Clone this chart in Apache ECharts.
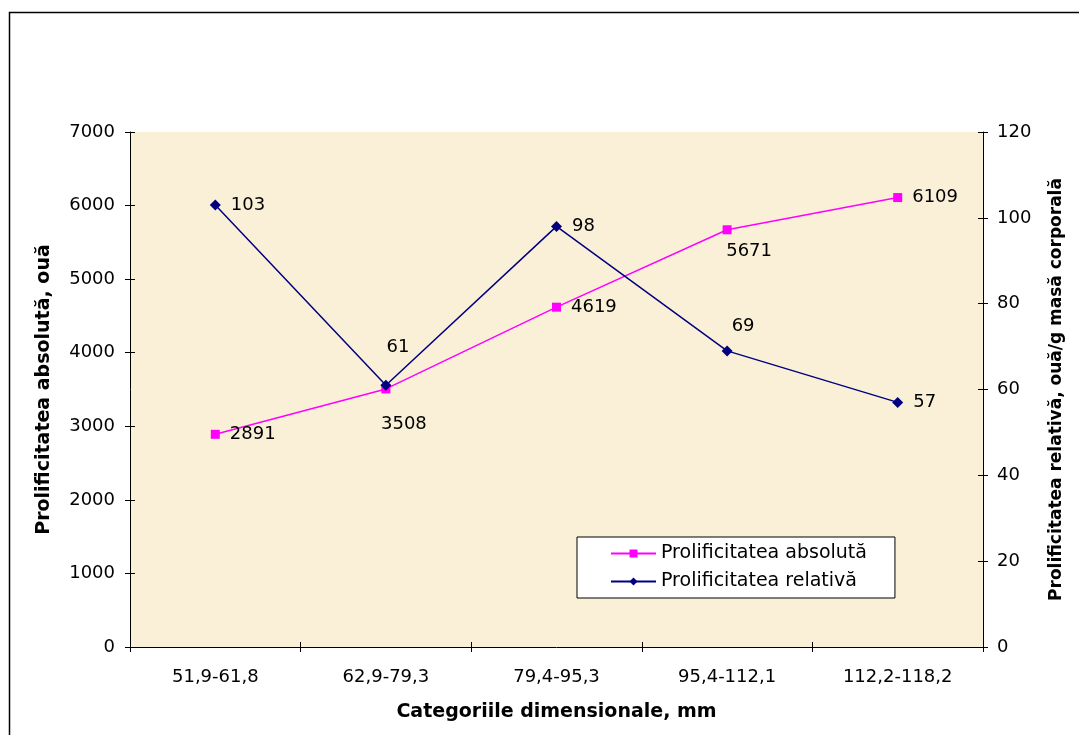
<!DOCTYPE html>
<html><head><meta charset="utf-8">
<script src="https://cdn.jsdelivr.net/npm/echarts@6/dist/echarts.min.js"></script>
<style>html,body{margin:0;padding:0;background:#fff;}#c{width:1079px;height:735px;}</style>
</head><body><div id="c"></div>
<script>
const categories = ['51,9-61,8','62,9-79,3','79,4-95,3','95,4-112,1','112,2-118,2'];
const absolute = [2891, 3508, 4619, 5671, 6109];
const relative = [103, 61, 98, 69, 57];
const leftTicks = [0,1000,2000,3000,4000,5000,6000,7000];
const rightTicks = [0,20,40,60,80,100,120];

// label placement (style, kept apart from data)
const absLabel = [null, [18, 35], null, [22, 22], null];
const relLabel = [null, [12, -38], null, [16, -25], null];

const font = '"DejaVu Sans", Verdana, sans-serif';
const chart = echarts.init(document.getElementById('c'));
const lbl = (off) => off
  ? {show:true, position:'inside', offset:off, color:'#000', fontSize:18, fontFamily:font}
  : {show:true, position:'right', distance:10, color:'#000', fontSize:18, fontFamily:font};
const tickOnly = {axisLine:{show:false}, axisLabel:{show:false}, splitLine:{show:false},
                  axisTick:{show:true, inside:true, length:5, lineStyle:{color:'#000', width:1}}};
const lMin = leftTicks[0], lMax = leftTicks[leftTicks.length-1], lInt = leftTicks[1]-leftTicks[0];
const rMin = rightTicks[0], rMax = rightTicks[rightTicks.length-1], rInt = rightTicks[1]-rightTicks[0];
chart.setOption({
  animation:false,
  textStyle:{fontFamily:font},
  graphic:[{type:'rect', shape:{x:9.5,y:12.5,width:1200,height:1000}, style:{fill:'none',stroke:'#000',lineWidth:1.5}, z:-1}],
  grid:{left:130, right:96, top:132, bottom:88, show:true, backgroundColor:'#faf0d8', borderWidth:0},
  legend:{
    left:577, top:537, orient:'vertical', backgroundColor:'#fff', borderColor:'#000', borderWidth:1,
    padding:[7,28,7,33], itemGap:9, itemWidth:45, itemHeight:10,
    textStyle:{fontSize:19, color:'#000', fontFamily:font},
    data:['Prolificitatea absolută','Prolificitatea relativă']
  },
  xAxis:[{
    type:'category', data:categories, boundaryGap:true,
    axisLine:{lineStyle:{color:'#000',width:1}},
    axisTick:{show:true, length:5, lineStyle:{color:'#000'}},
    axisLabel:{color:'#000', fontSize:18, margin:21, fontFamily:font},
    name:'Categoriile dimensionale, mm', nameLocation:'middle', nameGap:56,
    nameTextStyle:{fontWeight:'bold', fontSize:19, color:'#000', fontFamily:font},
    splitLine:{show:false}
  },
  Object.assign({type:'category', data:categories, boundaryGap:true, position:'bottom'}, tickOnly)],
  yAxis:[
    {type:'value', min:lMin, max:lMax, interval:lInt, position:'left',
     axisLine:{show:true, lineStyle:{color:'#000'}}, axisTick:{show:true,length:5,lineStyle:{color:'#000'}},
     axisLabel:{color:'#000', fontSize:18, margin:15, fontFamily:font, formatter:v=>String(v)},
     splitLine:{show:false},
     name:'Prolificitatea absolută, ouă', nameLocation:'middle', nameGap:76, nameRotate:90,
     nameTextStyle:{fontWeight:'bold', fontSize:19, color:'#000', fontFamily:font}},
    {type:'value', min:rMin, max:rMax, interval:rInt, position:'right',
     axisLine:{show:true, lineStyle:{color:'#000'}}, axisTick:{show:true,length:5,lineStyle:{color:'#000'}},
     axisLabel:{color:'#000', fontSize:18, margin:14, fontFamily:font, formatter:v=>String(v)},
     splitLine:{show:false},
     name:'Prolificitatea relativă, ouă/g masă corporală', nameLocation:'middle', nameGap:65, nameRotate:90,
     nameTextStyle:{fontWeight:'bold', fontSize:17, color:'#000', fontFamily:font}},
    Object.assign({type:'value', min:lMin, max:lMax, interval:lInt, position:'left'}, tickOnly),
    Object.assign({type:'value', min:rMin, max:rMax, interval:rInt, position:'right'}, tickOnly)
  ],
  series:[
    {name:'Prolificitatea absolută', type:'line', yAxisIndex:0,
     data: absolute.map((v,i)=>({value:v, label:lbl(absLabel[i])})),
     symbol:'rect', symbolSize:9, lineStyle:{color:'#ff00ff', width:1.5}, itemStyle:{color:'#ff00ff'}},
    {name:'Prolificitatea relativă', type:'line', yAxisIndex:1,
     data: relative.map((v,i)=>({value:v, label:lbl(relLabel[i])})),
     symbol:'diamond', symbolSize:11, lineStyle:{color:'#000080', width:1.5}, itemStyle:{color:'#000080'}}
  ]
});
</script></body></html>
